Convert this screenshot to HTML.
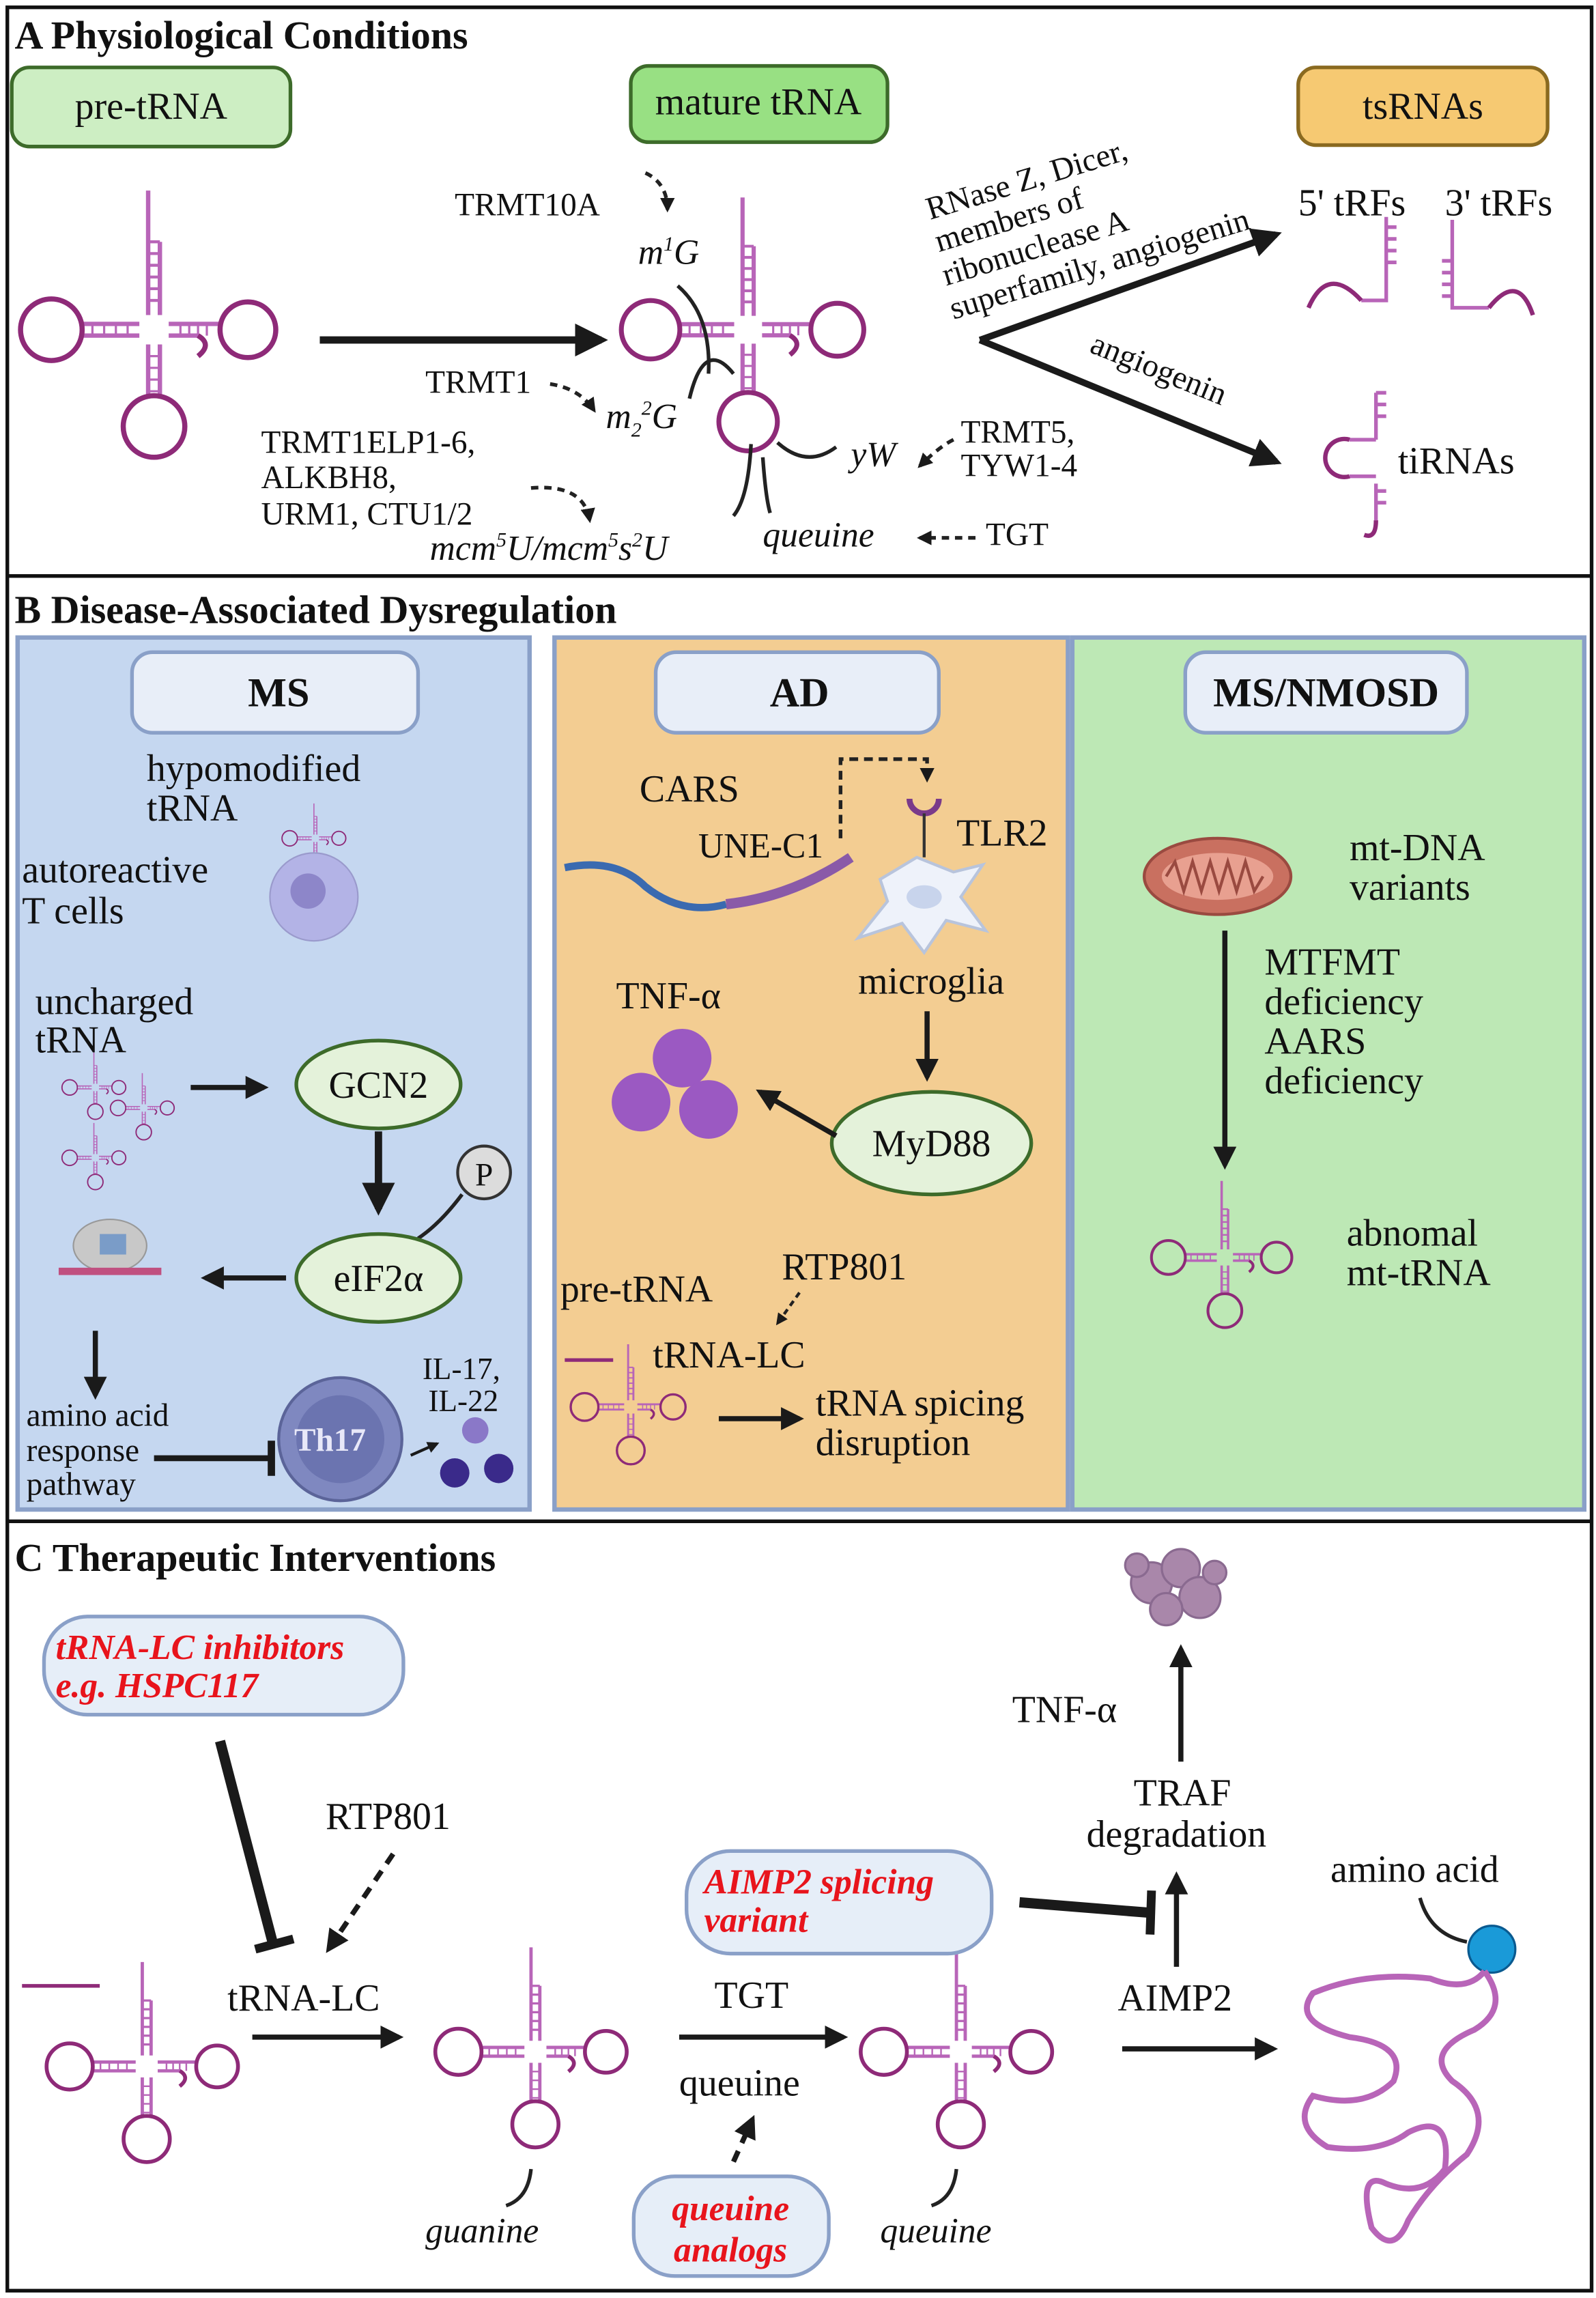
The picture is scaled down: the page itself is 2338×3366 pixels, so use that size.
<!DOCTYPE html>
<html><head><meta charset="utf-8"><style>
html,body{margin:0;padding:0;background:#fff}
svg{display:block}
text{font-family:"Liberation Serif",serif;fill:#111}
.b{font-weight:bold}
.i{font-style:italic}
.r{fill:#e8141c;font-weight:bold;font-style:italic}
</style></head><body>
<svg width="2338" height="3366" viewBox="0 0 1088 1568" preserveAspectRatio="none" xmlns="http://www.w3.org/2000/svg">
<defs>
<marker id="ah" viewBox="0 0 10 10" refX="8" refY="5" markerWidth="4" markerHeight="4" orient="auto-start-reverse"><path d="M0,0 L10,5 L0,10 z" fill="#1a1a1a"/></marker>
<marker id="as" viewBox="0 0 10 10" refX="8" refY="5" markerWidth="4.5" markerHeight="4.5" orient="auto"><path d="M0,0 L10,5 L0,10 z" fill="#1a1a1a"/></marker>
<symbol id="t" overflow="visible">
<g fill="none" stroke="#b865b8" stroke-width="3">
<path d="M-4,-10 V-95 M4,-10 V-60"/>
<path d="M-4,-20 H4 M-4,-28 H4 M-4,-36 H4 M-4,-44 H4 M-4,-52 H4 M-4,-60 H4" stroke-width="2"/>
<path d="M-10,-4 H-50 M-10,4 H-50"/>
<path d="M-18,-4 V4 M-26,-4 V4 M-34,-4 V4 M-42,-4 V4" stroke-width="1.5"/>
<path d="M10,-4 H45 M10,4 H30"/>
<path d="M18,-4 V4 M24,-4 V4 M30,-4 V4 M36,-4 V4" stroke-width="1.5"/>
<path d="M-4,10 V45 M4,10 V45"/>
<path d="M-4,18 H4 M-4,26 H4 M-4,34 H4 M-4,42 H4" stroke-width="1.5"/>
</g>
<g fill="none" stroke="#8e2a78" stroke-width="3.5">
<circle cx="-70" cy="0" r="21"/>
<circle cx="64" cy="0" r="19"/>
<circle cx="0" cy="66" r="21"/>
<path d="M30,4 Q40,10 30,18"/>
</g>
</symbol>
<symbol id="bl" overflow="visible"><circle r="20" fill="#9b59c2"/></symbol>
</defs>

<rect x="5" y="5" width="1080" height="1558" fill="none" stroke="#111" stroke-width="2.5"/>
<line x1="5" y1="393" x2="1085" y2="393" stroke="#111" stroke-width="2.5"/>
<line x1="5" y1="1038" x2="1085" y2="1038" stroke="#111" stroke-width="2.5"/>

<!-- A -->
<text x="10" y="33" font-size="27" class="b">A Physiological Conditions</text>
<rect x="8" y="46" width="190" height="54" rx="12" fill="#cdeec3" stroke="#3d6b2a" stroke-width="2.5"/>
<text x="103" y="81" font-size="26" text-anchor="middle">pre-tRNA</text>
<rect x="430" y="45" width="175" height="52" rx="12" fill="#98e083" stroke="#3d6b2a" stroke-width="2.5"/>
<text x="517" y="78" font-size="26" text-anchor="middle">mature tRNA</text>
<rect x="885" y="46" width="170" height="53" rx="12" fill="#f6c972" stroke="#8a6a20" stroke-width="2.5"/>
<text x="970" y="81" font-size="26" text-anchor="middle">tsRNAs</text>

<use href="#t" transform="translate(105,225)"/>
<line x1="218" y1="232" x2="410" y2="232" stroke="#1a1a1a" stroke-width="5" marker-end="url(#as)"/>
<use href="#t" transform="translate(510,225) scale(0.95)"/>

<g fill="none" stroke="#222" stroke-width="2.5">
<path d="M462,195 Q485,215 483,255"/>
<path d="M470,272 Q480,230 500,255"/>
<path d="M530,302 Q550,320 570,305"/>
<path d="M512,303 Q510,340 500,352"/>
<path d="M520,312 Q522,340 525,350"/>
</g>
<text x="310" y="147" font-size="22">TRMT10A</text>
<text x="435" y="180" font-size="24" class="i">m<tspan font-size="14" dy="-9">1</tspan><tspan dy="9">G</tspan></text>
<text x="290" y="268" font-size="22">TRMT1</text>
<text x="413" y="292" font-size="24" class="i">m<tspan font-size="14" dy="6">2</tspan><tspan font-size="14" dy="-15">2</tspan><tspan dy="9">G</tspan></text>
<text x="178" y="309" font-size="22">TRMT1ELP1-6,</text>
<text x="178" y="333" font-size="22">ALKBH8,</text>
<text x="178" y="358" font-size="22">URM1, CTU1/2</text>
<text x="293" y="382" font-size="24" class="i">mcm<tspan font-size="14" dy="-9">5</tspan><tspan dy="9">U/mcm</tspan><tspan font-size="14" dy="-9">5</tspan><tspan dy="9">s</tspan><tspan font-size="14" dy="-9">2</tspan><tspan dy="9">U</tspan></text>
<text x="580" y="318" font-size="24" class="i">yW</text>
<text x="655" y="302" font-size="22">TRMT5,</text>
<text x="655" y="325" font-size="22">TYW1-4</text>
<text x="520" y="373" font-size="24" class="i">queuine</text>
<text x="672" y="372" font-size="22">TGT</text>
<g fill="none" stroke="#222" stroke-width="2.5" stroke-dasharray="5,4" marker-end="url(#ah)">
<path d="M440,118 Q455,125 455,143"/>
<path d="M375,262 Q395,265 405,280"/>
<path d="M362,333 Q398,330 402,355"/>
<path d="M650,300 Q640,305 627,318"/>
<path d="M665,367 H627"/>
</g>
<g font-size="22">
<text transform="translate(634,150) rotate(-17)">RNase Z, Dicer,</text>
<text transform="translate(640,172) rotate(-17)">members of</text>
<text transform="translate(645,195) rotate(-17)">ribonuclease A</text>
<text transform="translate(650,218) rotate(-17)">superfamily, angiogenin</text>
<text transform="translate(742,240) rotate(22)">angiogenin</text>
</g>
<line x1="668" y1="232" x2="870" y2="160" stroke="#1a1a1a" stroke-width="4.5" marker-end="url(#as)"/>
<line x1="668" y1="232" x2="870" y2="315" stroke="#1a1a1a" stroke-width="4.5" marker-end="url(#as)"/>
<text x="885" y="147" font-size="26">5' tRFs</text>
<text x="985" y="147" font-size="26">3' tRFs</text>
<text x="953" y="323" font-size="26">tiRNAs</text>
<g fill="none" stroke="#b865b8" stroke-width="2.5">
<path d="M945,148 V205 H928 M945,155 H952 M945,163 H952 M945,171 H952 M945,179 H952"/>
<path d="M990,150 V210 H1015 M990,178 H983 M990,186 H983 M990,194 H983 M990,202 H983"/>
<path d="M938,268 V300 M938,268 H945 M938,276 H945 M938,284 H945 M938,330 V355 M938,335 H945 M938,343 H945 M938,300 H920 M938,325 H920"/>
</g>
<g fill="none" stroke="#8e2a78" stroke-width="3">
<path d="M892,210 Q905,180 928,205"/>
<path d="M1015,210 Q1035,185 1045,215"/>
<path d="M920,300 A13,13 0 1 0 920,325"/>
<path d="M938,355 Q938,368 930,365"/>
</g>

<!-- B -->
<text x="10" y="425" font-size="27" class="b">B Disease-Associated Dysregulation</text>
<rect x="12" y="435" width="349" height="595" fill="#c5d7f0" stroke="#8aa0c8" stroke-width="3"/>
<rect x="378" y="435" width="350" height="595" fill="#f3cd92" stroke="#8aa0c8" stroke-width="3"/>
<rect x="731" y="435" width="349" height="595" fill="#bde8b5" stroke="#8aa0c8" stroke-width="3"/>
<rect x="90" y="445" width="195" height="55" rx="14" fill="#e8eef8" stroke="#8aa0c8" stroke-width="2.5"/>
<text x="190" y="482" font-size="28" class="b" text-anchor="middle">MS</text>
<rect x="447" y="445" width="193" height="55" rx="14" fill="#e8eef8" stroke="#8aa0c8" stroke-width="2.5"/>
<text x="545" y="482" font-size="28" class="b" text-anchor="middle">AD</text>
<rect x="808" y="445" width="192" height="55" rx="14" fill="#e8eef8" stroke="#8aa0c8" stroke-width="2.5"/>
<text x="904" y="482" font-size="28" class="b" text-anchor="middle">MS/NMOSD</text>

<text x="100" y="533" font-size="26">hypomodified</text>
<text x="100" y="560" font-size="26">tRNA</text>
<use href="#t" transform="translate(215,572) scale(0.25)"/>
<circle cx="214" cy="612" r="30" fill="#b3b3e6" stroke="#9a9acc"/>
<circle cx="210" cy="608" r="12" fill="#8d86c9"/>
<text x="15" y="602" font-size="26">autoreactive</text>
<text x="15" y="630" font-size="26">T cells</text>
<text x="24" y="692" font-size="26">uncharged</text>
<text x="24" y="718" font-size="26">tRNA</text>
<use href="#t" transform="translate(65,742) scale(0.25)"/>
<use href="#t" transform="translate(98,756) scale(0.25)"/>
<use href="#t" transform="translate(65,790) scale(0.25)"/>
<line x1="130" y1="742" x2="180" y2="742" stroke="#1a1a1a" stroke-width="3.5" marker-end="url(#as)"/>
<ellipse cx="258" cy="740" rx="56" ry="30" fill="#e4f2da" stroke="#3d6b2a" stroke-width="2.5"/>
<text x="258" y="749" font-size="26" text-anchor="middle">GCN2</text>
<line x1="258" y1="772" x2="258" y2="825" stroke="#1a1a1a" stroke-width="5" marker-end="url(#as)"/>
<path d="M315,815 Q300,835 285,845" fill="none" stroke="#222" stroke-width="2.5"/>
<circle cx="330" cy="800" r="18" fill="#dcdcdc" stroke="#333" stroke-width="2"/>
<text x="330" y="809" font-size="22" text-anchor="middle">P</text>
<ellipse cx="258" cy="872" rx="56" ry="30" fill="#e4f2da" stroke="#3d6b2a" stroke-width="2.5"/>
<text x="258" y="881" font-size="26" text-anchor="middle">eIF2α</text>
<line x1="195" y1="872" x2="140" y2="872" stroke="#1a1a1a" stroke-width="3.5" marker-end="url(#as)"/>
<ellipse cx="75" cy="850" rx="25" ry="18" fill="#c8c8c8" stroke="#999"/>
<rect x="68" y="842" width="18" height="14" fill="#7a9cc8"/>
<rect x="40" y="865" width="70" height="5" fill="#c05080"/>
<line x1="65" y1="908" x2="65" y2="952" stroke="#1a1a1a" stroke-width="3.5" marker-end="url(#as)"/>
<text x="18" y="973" font-size="22">amino acid</text>
<text x="18" y="997" font-size="22">response</text>
<text x="18" y="1020" font-size="22">pathway</text>
<line x1="105" y1="995" x2="183" y2="995" stroke="#1a1a1a" stroke-width="4"/>
<line x1="185" y1="983" x2="185" y2="1007" stroke="#1a1a1a" stroke-width="5"/>
<circle cx="232" cy="982" r="42" fill="#7f88c0" stroke="#5b6499" stroke-width="2"/>
<circle cx="232" cy="982" r="30" fill="#6b74b0"/>
<text x="225" y="990" font-size="22" class="b" text-anchor="middle" style="fill:#e8e8f8">Th17</text>
<line x1="280" y1="993" x2="298" y2="985" stroke="#1a1a1a" stroke-width="2" marker-end="url(#ah)"/>
<text x="288" y="941" font-size="21">IL-17,</text>
<text x="292" y="963" font-size="21">IL-22</text>
<circle cx="324" cy="976" r="9" fill="#8a78c8"/>
<circle cx="310" cy="1005" r="10" fill="#3a2a8a"/>
<circle cx="340" cy="1002" r="10" fill="#3a2a8a"/>

<text x="436" y="547" font-size="26">CARS</text>
<text x="476" y="585" font-size="24">UNE-C1</text>
<path d="M385,592 Q420,585 440,605 Q465,625 495,617" fill="none" stroke="#3a6ab0" stroke-width="5"/>
<path d="M495,617 Q540,612 580,585" fill="none" stroke="#8a5aa8" stroke-width="7"/>
<path d="M573,572 V518 H632 V532" fill="none" stroke="#222" stroke-width="2.5" stroke-dasharray="6,4" marker-end="url(#ah)"/>
<path d="M620,545 A10,10 0 0 0 640,545" fill="none" stroke="#7a3a8a" stroke-width="4"/>
<line x1="630" y1="555" x2="630" y2="585" stroke="#333" stroke-width="2"/>
<text x="652" y="577" font-size="26">TLR2</text>
<path d="M600,600 L625,585 L650,595 L670,590 L655,612 L672,635 L645,628 L630,650 L615,630 L585,640 L605,615 z" fill="#eef2fa" stroke="#b8c4dc" stroke-width="2"/>
<ellipse cx="630" cy="612" rx="12" ry="8" fill="#c8d4ec"/>
<text x="585" y="678" font-size="26">microglia</text>
<line x1="632" y1="690" x2="632" y2="735" stroke="#1a1a1a" stroke-width="3.5" marker-end="url(#as)"/>
<ellipse cx="635" cy="780" rx="68" ry="35" fill="#e4f2da" stroke="#3d6b2a" stroke-width="2.5"/>
<text x="635" y="789" font-size="26" text-anchor="middle">MyD88</text>
<line x1="570" y1="775" x2="518" y2="745" stroke="#1a1a1a" stroke-width="3.5" marker-end="url(#as)"/>
<text x="420" y="688" font-size="26">TNF-α</text>
<use href="#bl" transform="translate(465,722)"/>
<use href="#bl" transform="translate(437,752)"/>
<use href="#bl" transform="translate(483,757)"/>
<text x="382" y="888" font-size="26">pre-tRNA</text>
<text x="533" y="873" font-size="26">RTP801</text>
<line x1="545" y1="882" x2="530" y2="903" stroke="#222" stroke-width="2" stroke-dasharray="4,3" marker-end="url(#ah)"/>
<text x="445" y="933" font-size="26">tRNA-LC</text>
<path d="M385,928 H418" fill="none" stroke="#8e2a78" stroke-width="2.5"/>
<use href="#t" transform="translate(430,960) scale(0.45)"/>
<line x1="490" y1="968" x2="545" y2="968" stroke="#1a1a1a" stroke-width="3.5" marker-end="url(#as)"/>
<text x="556" y="966" font-size="26">tRNA spicing</text>
<text x="556" y="993" font-size="26">disruption</text>

<ellipse cx="830" cy="598" rx="50" ry="26" fill="#c97060" stroke="#9a4a40" stroke-width="2"/>
<ellipse cx="830" cy="598" rx="38" ry="16" fill="#e8a090"/>
<path d="M795,598 l6,-10 l6,20 l6,-20 l6,20 l6,-20 l6,20 l6,-20 l6,20 l6,-20 l6,20 l6,-10" fill="none" stroke="#9a4a40" stroke-width="2"/>
<text x="920" y="587" font-size="26">mt-DNA</text>
<text x="920" y="614" font-size="26">variants</text>
<line x1="835" y1="635" x2="835" y2="795" stroke="#1a1a1a" stroke-width="3.5" marker-end="url(#as)"/>
<text x="862" y="665" font-size="26">MTFMT</text>
<text x="862" y="692" font-size="26">deficiency</text>
<text x="862" y="719" font-size="26">AARS</text>
<text x="862" y="746" font-size="26">deficiency</text>
<use href="#t" transform="translate(835,858) scale(0.55)"/>
<text x="918" y="850" font-size="26">abnomal</text>
<text x="918" y="877" font-size="26">mt-tRNA</text>

<!-- C -->
<text x="10" y="1072" font-size="27" class="b">C Therapeutic Interventions</text>
<rect x="30" y="1103" width="245" height="67" rx="30" fill="#e6eef8" stroke="#8aa0c8" stroke-width="2.5"/>
<text x="38" y="1132" font-size="24" class="r">tRNA-LC inhibitors</text>
<text x="38" y="1158" font-size="24" class="r">e.g. HSPC117</text>
<line x1="150" y1="1188" x2="186" y2="1326" stroke="#1a1a1a" stroke-width="7"/>
<line x1="174" y1="1330" x2="200" y2="1323" stroke="#1a1a1a" stroke-width="6"/>
<text x="222" y="1248" font-size="26">RTP801</text>
<line x1="268" y1="1265" x2="224" y2="1330" stroke="#1a1a1a" stroke-width="3.5" stroke-dasharray="8,6" marker-end="url(#as)"/>
<text x="155" y="1372" font-size="26">tRNA-LC</text>
<path d="M15,1355 H68" fill="none" stroke="#8e2a78" stroke-width="2.5"/>
<use href="#t" transform="translate(100,1410) scale(0.75)"/>
<line x1="172" y1="1390" x2="272" y2="1390" stroke="#1a1a1a" stroke-width="3.5" marker-end="url(#as)"/>
<use href="#t" transform="translate(365,1400) scale(0.75)"/>
<text x="290" y="1530" font-size="24" class="i">guanine</text>
<path d="M362,1480 Q360,1500 345,1505" fill="none" stroke="#222" stroke-width="2.5"/>
<text x="487" y="1370" font-size="26">TGT</text>
<line x1="463" y1="1390" x2="575" y2="1390" stroke="#1a1a1a" stroke-width="3.5" marker-end="url(#as)"/>
<text x="463" y="1430" font-size="26">queuine</text>
<line x1="500" y1="1475" x2="513" y2="1446" stroke="#1a1a1a" stroke-width="3.5" stroke-dasharray="8,6" marker-end="url(#as)"/>
<rect x="432" y="1485" width="133" height="68" rx="28" fill="#e6eef8" stroke="#8aa0c8" stroke-width="2.5"/>
<text x="498" y="1515" font-size="24" class="r" text-anchor="middle">queuine</text>
<text x="498" y="1543" font-size="24" class="r" text-anchor="middle">analogs</text>
<use href="#t" transform="translate(655,1400) scale(0.75)"/>
<text x="600" y="1530" font-size="24" class="i">queuine</text>
<path d="M652,1480 Q650,1500 635,1505" fill="none" stroke="#222" stroke-width="2.5"/>
<rect x="468" y="1263" width="208" height="70" rx="30" fill="#e6eef8" stroke="#8aa0c8" stroke-width="2.5"/>
<text x="480" y="1292" font-size="24" class="r">AIMP2 splicing</text>
<text x="480" y="1318" font-size="24" class="r">variant</text>
<line x1="695" y1="1298" x2="782" y2="1305" stroke="#1a1a1a" stroke-width="7"/>
<line x1="785" y1="1290" x2="784" y2="1320" stroke="#1a1a1a" stroke-width="6"/>
<line x1="802" y1="1342" x2="802" y2="1280" stroke="#1a1a1a" stroke-width="3.5" marker-end="url(#as)"/>
<text x="806" y="1232" font-size="26" text-anchor="middle">TRAF</text>
<text x="802" y="1260" font-size="26" text-anchor="middle">degradation</text>
<line x1="805" y1="1202" x2="805" y2="1125" stroke="#1a1a1a" stroke-width="3.5" marker-end="url(#as)"/>
<text x="690" y="1175" font-size="26">TNF-α</text>
<g fill="#a987aa" stroke="#8a6a90" stroke-width="1.5">
<circle cx="785" cy="1080" r="14"/><circle cx="805" cy="1070" r="13"/><circle cx="818" cy="1090" r="14"/>
<circle cx="795" cy="1098" r="11"/><circle cx="775" cy="1068" r="8"/><circle cx="828" cy="1073" r="8"/>
</g>
<text x="762" y="1372" font-size="26">AIMP2</text>
<line x1="765" y1="1398" x2="868" y2="1398" stroke="#1a1a1a" stroke-width="3.5" marker-end="url(#as)"/>
<text x="907" y="1284" font-size="26">amino acid</text>
<path d="M968,1295 Q975,1320 1000,1325" fill="none" stroke="#222" stroke-width="2.5"/>
<circle cx="1017" cy="1330" r="16" fill="#1a9ad8" stroke="#0a5a90" stroke-width="1.5"/>
<path d="M1012,1345 Q1000,1360 975,1350 Q930,1345 895,1360 Q880,1380 920,1390 Q960,1395 950,1420 Q930,1440 895,1430 Q880,1450 905,1465 Q940,1470 960,1455 Q990,1440 985,1480 Q970,1500 945,1490 Q925,1480 935,1520 Q950,1540 960,1515 Q975,1490 1000,1470 Q1020,1440 990,1420 Q970,1400 1005,1385 Q1030,1370 1012,1345" fill="none" stroke="#b865b8" stroke-width="4"/>
</svg>
</body></html>
